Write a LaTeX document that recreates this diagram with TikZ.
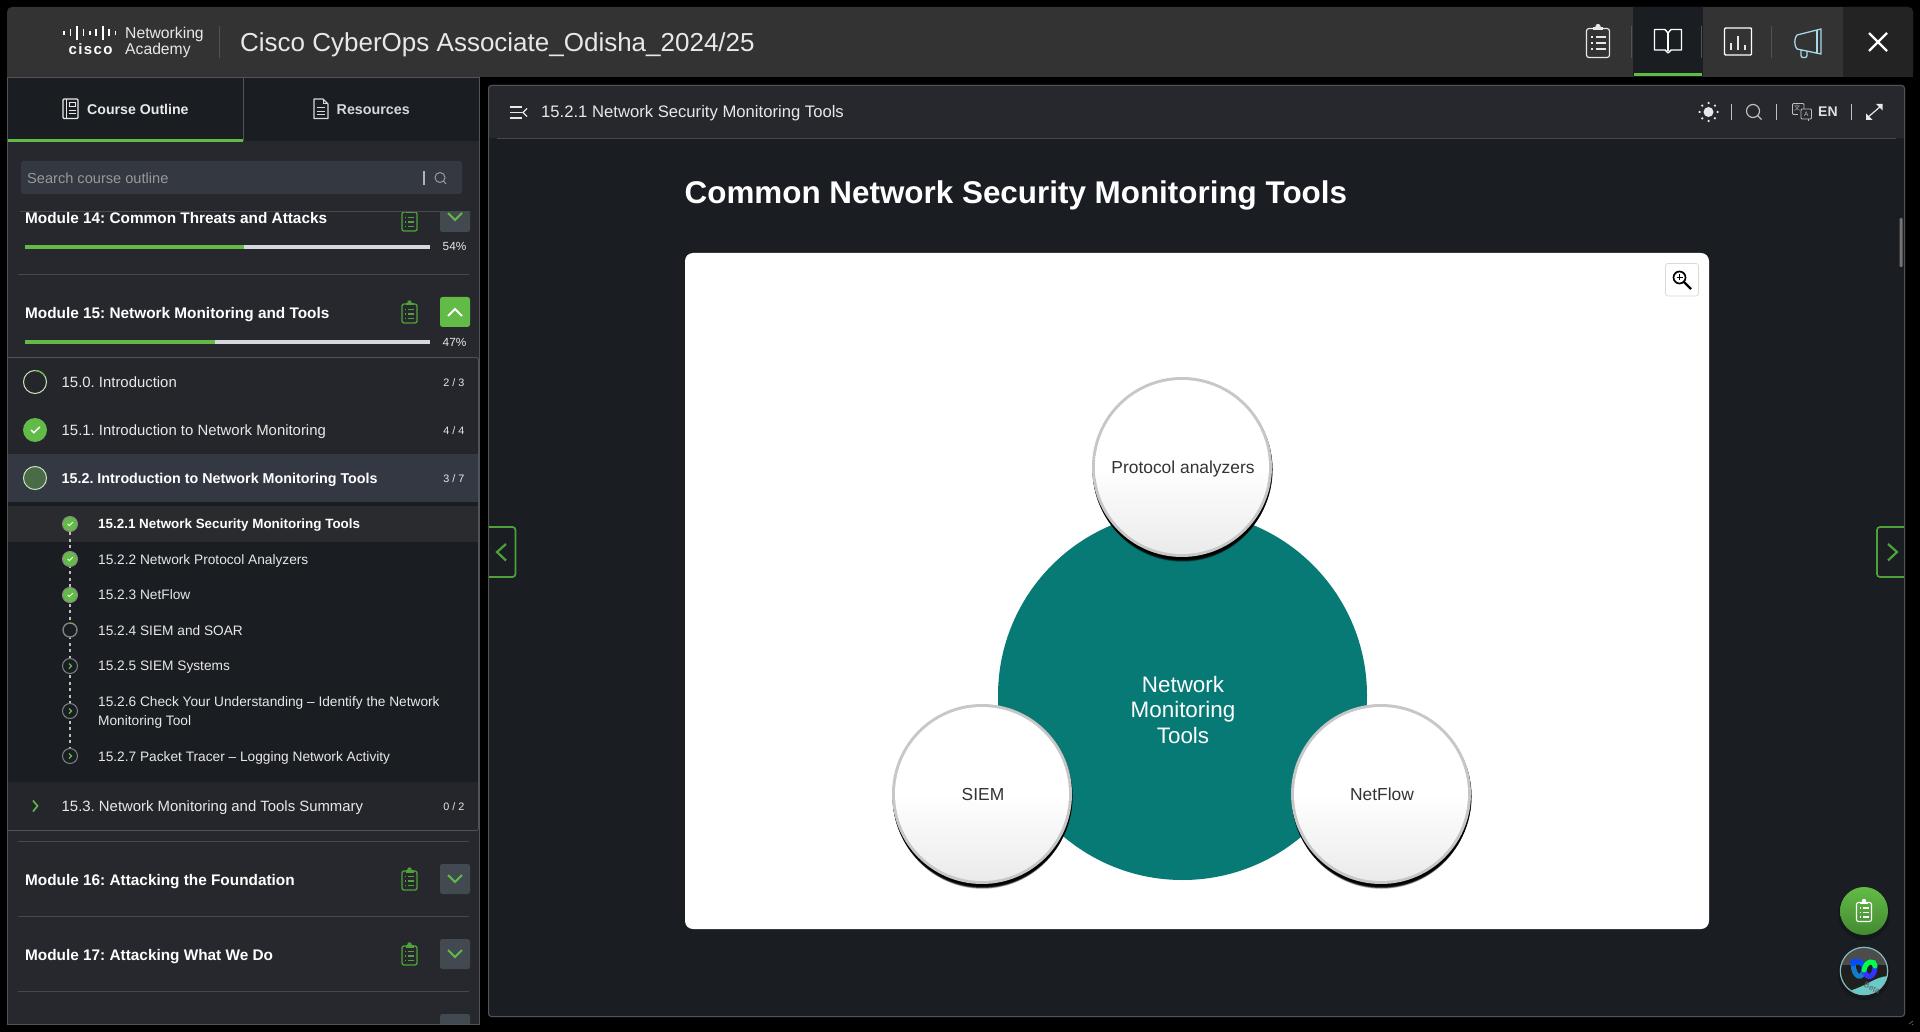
\documentclass[tikz,border=0pt]{standalone}
\usepackage{fontspec}
\setmainfont{Liberation Sans}
\newfontfamily\cjkface{Noto Sans CJK SC}
\usetikzlibrary{calc}
\definecolor{hdr}{HTML}{333333}
\definecolor{hdrdk}{HTML}{232323}
\definecolor{panel}{HTML}{26282D}
\definecolor{dark}{HTML}{1A1D22}
\definecolor{edge}{HTML}{50535A}
\definecolor{sepl}{HTML}{46484D}
\definecolor{srch}{HTML}{343840}
\definecolor{rowhi}{HTML}{333843}
\definecolor{subhi}{HTML}{2A2B2F}
\definecolor{grn}{HTML}{62BB46}
\definecolor{grnd}{HTML}{4FA23A}
\definecolor{grnm}{HTML}{4A6B45}
\definecolor{btn}{HTML}{434950}
\definecolor{bar}{HTML}{D4D8DF}
\definecolor{txt}{HTML}{E8E8E8}
\definecolor{teal}{HTML}{077A76}
\definecolor{ink}{HTML}{333333}
\definecolor{megab}{HTML}{A8D8E8}
\tikzset{
  x=1pt,y=-1pt,
  lbl/.style={inner sep=0pt,anchor=base west,text=txt},
  mid/.style={inner sep=0pt,anchor=base,text=txt},
  rgt/.style={inner sep=0pt,anchor=base east,text=txt},
  mod/.style={lbl,text=white,font=\frenchspacing\fontsize{15.35}{18}\selectfont\bfseries},
  row/.style={lbl,font=\frenchspacing\fontsize{14.9}{18}\selectfont},
  sub/.style={lbl,font=\frenchspacing\fontsize{13.7}{16}\selectfont},
  cnt/.style={rgt,font=\fontsize{10.8}{12}\selectfont},
  pct/.style={mid,font=\fontsize{11.8}{14}\selectfont},
  sepline/.style={draw=sepl,line width=0.8pt},
  ticon/.style={draw=white,line width=1.4pt,line join=round},
  balltxt/.style={text=ink,font=\fontsize{17.4}{20}\selectfont},
}
% clipboard icon: centre x, y, colour, line width
\newcommand{\clipicon}[4]{\begin{scope}[shift={(#1,#2)}]
  \draw[#3,line width=#4pt,rounded corners=2pt] (-7.5,-8) rectangle (7.5,11);
  \fill[#3] (-4,-9) rectangle (4,-6.5);
  \fill[#3] (0,-9.5) circle (2.2);
  \foreach \q in {-2.5,2,6.5}{
    \draw[#3,line width=#4pt] (-4.5,\q) -- (-3.2,\q);
    \draw[#3,line width=#4pt] (-1.2,\q) -- (4.8,\q);}
\end{scope}}
\newcommand{\downbtn}[2]{
  \fill[btn,rounded corners=2.5pt] (#1,#2) rectangle ++(30,30);
  \draw[grn,line width=2pt] (#1+8,#2+11) -- (#1+15,#2+18) -- (#1+22,#2+11);}
\newcommand{\progbar}[2]{
  \draw[bar,line width=3.5pt] (25,#1) -- (430,#1);
  \draw[grn,line width=3.5pt] (25,#1) -- (#2,#1);}
\newcommand{\chk}[3]{\draw[white,line width=#3pt] (#1-#3*2.6,#2) -- (#1-#3*0.8,#2+#3*1.8) -- (#1+#3*3.2,#2-#3*2);}
\begin{document}
\begin{tikzpicture}
\useasboundingbox (0,0) rectangle (1920,1032);
\fill[black] (0,0) rectangle (1920,1032);
% ---------- header bar
\fill[hdr,rounded corners=5pt] (7,7) rectangle (1913,77);
\fill[hdr] (7,30) rectangle (1700,77);
\fill[hdrdk,rounded corners=5pt] (1843,7) rectangle (1913,77);
\fill[hdrdk] (1843,7) rectangle (1880,77);
\fill[hdrdk] (1843,40) rectangle (1913,77);
\fill[dark] (1633,7) rectangle (1703,77);
\fill[grn] (1634,73) rectangle (1702,76);
% logo
\foreach \i/\h in {0/4,1/7,2/14,3/7,4/4,5/7,6/14,7/7,8/4}{
  \draw[white,line width=1.7pt] (64+\i*6.45,33-\h/2) -- (64+\i*6.45,33+\h/2);}
\node[mid,text=white,font=\fontsize{15}{16}\selectfont\bfseries] (logocisco) at (90.5,55) {c\hspace{1.4pt}i\hspace{1.4pt}s\hspace{1.4pt}c\hspace{1.4pt}o};
\node[lbl,font=\fontsize{15.7}{16}\selectfont,text=txt] (logonet) at (125,38.5) {Networking};
\node[lbl,font=\fontsize{15.7}{16}\selectfont,text=txt] (logoacad) at (125,55) {Academy};
\draw[edge] (219.5,26) -- (219.5,58);
\node[lbl,font=\fontsize{26}{30}\selectfont,text=txt] (course) at (240,52) {Cisco CyberOps Associate\_Odisha\_2024/25};
% header icons
\begin{scope}[shift={(1598,42)}]
  \draw[ticon,rounded corners=2.5pt,line width=1.2pt,draw=txt] (-11.5,-13.5) rectangle (11.5,15.5);
  \fill[txt] (-5,-15) rectangle (5,-12); \fill[txt] (0,-15.5) circle (2.6);
  \foreach \q in {-5,1,7}{\draw[txt,line width=1.4pt] (-7,\q) -- (-5,\q); \draw[txt,line width=1.4pt] (-2,\q) -- (8,\q);}
\end{scope}
\draw[edge] (1631.5,26) -- (1631.5,58);
\begin{scope}[shift={(1668,42)}]
  \draw[ticon] (0,-9) -- (-3,-12.5) -- (-13.5,-12.5) -- (-13.5,8) -- (-3,8) -- (0,11) -- (3,8) -- (13.5,8) -- (13.5,-12.5) -- (3,-12.5) -- cycle;
  \draw[ticon] (0,-9) -- (0,9);
\end{scope}
\draw[edge] (1701.5,26) -- (1701.5,58);
\begin{scope}[shift={(1738,42)}]
  \draw[ticon,rounded corners=1pt] (-13.5,-14) rectangle (13.5,13);
  \foreach \a/\h in {-7/7,0/14,7/5}{\draw[txt,line width=2.4pt] (\a,8) -- (\a,8-\h);}
\end{scope}
\draw[edge] (1771.5,26) -- (1771.5,58);
\begin{scope}[shift={(1808,42)}]
  \draw[megab,line width=1.3pt,line join=round] (-11,-7) -- (13,-13) -- (13,12) -- (-11,7) .. controls (-14,4) and (-14,-4) .. (-11,-7);
  \draw[megab,line width=1.3pt] (9,-12) -- (9,11);
  \draw[megab,line width=1.3pt,rounded corners=2pt] (-7,8) -- (-7,15.5) -- (-1,15.5) -- (-1,9);
\end{scope}
\draw[white,line width=2.4pt] (1869,33) -- (1887,51) (1887,33) -- (1869,51);
% ---------- left panel
\fill[panel] (8,78) rectangle (479,1024);
\fill[dark] (8,78) rectangle (243,141);
\fill[dark] (244,78) rectangle (479,141);
\draw[edge,line width=1pt] (7.5,77.5) -- (479.5,77.5) -- (479.5,1024) -- (7.5,1024) -- cycle;
\draw[edge,line width=0.8pt] (243.5,78) -- (243.5,141);
\fill[grn] (8,139) rectangle (243,142);
% tab icons
\draw[txt,line width=1.1pt,rounded corners=1pt] (63,99) rectangle (78,118.5);
\draw[txt,line width=1pt] (66,99) -- (66,118.5);
\draw[txt,line width=1pt] (69,103) rectangle (75,107);
\draw[txt,line width=1pt] (69,110.5) -- (75.5,110.5) (69,114) -- (75.5,114);
\node[lbl,text=txt,font=\fontsize{14.15}{18}\selectfont\bfseries] (tabout) at (87,114.8) {Course Outline};
\draw[bar,line width=1.1pt,line join=round] (314,99) -- (323,99) -- (328,104) -- (328,118.5) -- (314,118.5) -- cycle;
\draw[bar,line width=1pt] (323,99) -- (323,104) -- (328,104) (317,108) -- (325,108) (317,111.5) -- (325,111.5) (317,115) -- (325,115);
\node[lbl,text=bar,font=\fontsize{14.3}{18}\selectfont\bfseries] (tabres) at (336.5,114.8) {Resources};
% search
\fill[srch,rounded corners=2.5pt] (21,161) rectangle (462,194);
\node[lbl,text=white!60!black,font=\fontsize{14.6}{18}\selectfont] (search) at (27,183.5) {Search course outline};
\draw[white!70!black,line width=1.3pt] (424,171) -- (424,185);
\draw[white!60!black,line width=1pt] (440,177.5) circle (5) (443.6,181.2) -- (446,184);
% module 14, clipped under the search band
\begin{scope}
\clip (8,212) rectangle (479,300);
\node[mod] (m14) at (25,223.5) {Module 14: Common Threats and Attacks};
\clipicon{409.5}{220}{grnd}{1.3}
\downbtn{440}{202}
\end{scope}
\draw[sepl,line width=0.8pt] (20,211.5) -- (470,211.5);
\progbar{247}{244}
\node[pct] (p14) at (454.5,250.8) {54\%};
\draw[sepline] (18,274.5) -- (469,274.5);
% module 15
\node[mod] (m15) at (25,319) {Module 15: Network Monitoring and Tools};
\clipicon{409.5}{312}{grnd}{1.3}
\fill[grn,rounded corners=2.5pt] (440,297) rectangle (470,327);
\draw[white,line width=2pt] (448,316) -- (455,309) -- (462,316);
\progbar{342}{215}
\node[pct] (p15) at (454.5,346.3) {47\%};
% sub box
\fill[panel!85!dark] (8,357) rectangle (478,830);
\fill[dark] (8,502) rectangle (478,782);
\fill[rowhi] (8,454) rectangle (478,502);
\fill[subhi] (8,506) rectangle (478,542);
\draw[edge,line width=0.8pt,rounded corners=2pt] (8,357.5) -- (478.5,357.5) -- (478.5,830.5) -- (8,830.5);
% section rows
\draw[grn!35!white,line width=1pt] (35,382) circle (11.5);
\draw[grn,line width=1.2pt] (35,370.5) arc[start angle=-90,end angle=-30,radius=11.5];
\node[row] (r150) at (61.5,387.5) {15.0. Introduction};
\node[cnt] (c150) at (464.5,386) {2 / 3};
\fill[grn] (35,430) circle (12);
\chk{35}{430}{1.5}
\node[row] (r151) at (61.5,435.5) {15.1. Introduction to Network Monitoring};
\node[cnt] (c151) at (464.5,434) {4 / 4};
\fill[grnm] (35,478) circle (11);
\draw[grn!35!white,line width=1pt] (35,478) circle (11.5);
\node[row,text=white,font=\frenchspacing\fontsize{14.3}{18}\selectfont\bfseries] (r152) at (61.5,483.5) {15.2. Introduction to Network Monitoring Tools};
\node[cnt] (c152) at (464.5,482) {3 / 7};
% dotted path
\draw[white!75!black,line width=1.4pt,dash pattern=on 3pt off 3.5pt] (70,532) -- (70,750);
% sub items
\foreach \yy in {524,559,595}{
  \fill[grn] (70,\yy) circle (7.2);
  \draw[white!55!black,line width=1pt] (70,\yy) circle (7.5);
  \chk{70}{\yy}{0.9}
}
\fill[dark] (70,630) circle (7.5);
\draw[white!50!black,line width=1.4pt] (70,630) circle (7);
\draw[grn,line width=0.8pt] (70,623) arc[start angle=-90,end angle=-50,radius=7];
\foreach \yy in {666,711,756}{
  \fill[dark] (70,\yy) circle (7.5);
  \draw[white!50!black,line width=1pt] (70,\yy) circle (7.5);
  \draw[grn,line width=1.1pt] (69,\yy-2.5) -- (71.5,\yy) -- (69,\yy+2.5);
}
\node[sub,text=white,font=\frenchspacing\fontsize{13.4}{16}\selectfont\bfseries] (s1) at (98,528.5) {15.2.1 Network Security Monitoring Tools};
\node[sub] (s2) at (98,564.5) {15.2.2 Network Protocol Analyzers};
\node[sub] (s3) at (98,599.5) {15.2.3 NetFlow};
\node[sub] (s4) at (98,635.5) {15.2.4 SIEM and SOAR};
\node[sub] (s5) at (98,670.5) {15.2.5 SIEM Systems};
\node[sub] (s6) at (98,706.5) {15.2.6 Check Your Understanding – Identify the Network};
\node[sub] (s6b) at (98,725.5) {Monitoring Tool};
\node[sub] (s7) at (98,761.5) {15.2.7 Packet Tracer – Logging Network Activity};
\draw[grn,line width=1.6pt] (33,800.5) -- (37.5,806) -- (33,811.5);
\node[row] (r153) at (61.5,811.5) {15.3. Network Monitoring and Tools Summary};
\node[cnt] (c153) at (464.5,810) {0 / 2};
% modules below
\draw[sepline] (18,841.5) -- (469,841.5);
\node[mod] (m16) at (25,885) {Module 16: Attacking the Foundation};
\clipicon{409.5}{879}{grnd}{1.3}
\downbtn{440}{864}
\draw[sepline] (18,916.5) -- (469,916.5);
\node[mod] (m17) at (25,960) {Module 17: Attacking What We Do};
\clipicon{409.5}{954}{grnd}{1.3}
\downbtn{440}{939}
\draw[sepline] (18,991.5) -- (469,991.5);
\fill[btn,rounded corners=2.5pt] (440,1014) rectangle (470,1030);
\fill[black] (430,1024.5) rectangle (479,1032);
\draw[edge,line width=1pt] (7.5,1024) -- (479.5,1024);
% ---------- right panel
\fill[dark,rounded corners=3pt] (488,85) rectangle (1905,1017);
\fill[panel,rounded corners=3pt] (488,85) rectangle (1905,100);
\fill[panel] (488,92) rectangle (1905,138);
\draw[edge,line width=1pt,rounded corners=3pt] (488.5,85.5) rectangle (1904.5,1016.5);
\draw[sepl,line width=1pt] (497,138.5) -- (1896,138.5);
% hamburger and title
\draw[txt,line width=1.4pt] (510,107) -- (522,107) (510,112.5) -- (522,112.5) (510,118) -- (522,118);
\draw[txt,line width=1.4pt] (527,108.5) -- (523,112.5) -- (527,116.5);
\node[lbl,font=\fontsize{16.65}{20}\selectfont] (title) at (541,118) {15.2.1 Network Security Monitoring Tools};
% toolbar right
\fill[txt] (1708.5,112) circle (5);
\foreach \a in {0,45,...,315}{\fill[txt] ($(1708.5,112)+(\a:9)$) circle (1.25);}
\draw[white!75!black] (1731.5,104) -- (1731.5,120);
\draw[white!75!black,line width=1.2pt] (1753,111) circle (6.5) (1757.7,115.7) -- (1761.5,119.5);
\draw[white!75!black] (1776.5,104) -- (1776.5,120);
\draw[white!75!black,line width=0.9pt,rounded corners=1pt] (1792.5,103.5) rectangle (1804,114.5);
\fill[panel] (1798,109) rectangle (1812,120);
\draw[white!75!black,line width=0.9pt,rounded corners=1pt] (1801,109) rectangle (1811.5,119) ;
\draw[white!75!black,line width=0.9pt] (1808,119) -- (1808,121.5);
\node[mid,text=white!75!black,font=\fontsize{6.5}{8}\selectfont] (tra) at (1806.2,117) {A};
\node[mid,text=white!75!black,font=\cjkface\fontsize{6.5}{8}\selectfont] (trz) at (1797,110.5) {文};
\node[lbl,text=white!88!black,font=\fontsize{14}{16}\selectfont\bfseries] (en) at (1818,117) {EN};
\draw[white!75!black] (1851.5,104) -- (1851.5,120);
\draw[txt,line width=1.2pt] (1867,118) -- (1881,106);
\fill[txt] (1866,120) -- (1866,113.5) -- (1872.5,120) -- cycle;
\fill[txt] (1882.5,104) -- (1882.5,110.5) -- (1876,104) -- cycle;
\fill[white!45!black,rounded corners=1pt] (1899.5,218) rectangle (1902.5,267);
% heading
\node[lbl,text=white,font=\fontsize{31.4}{34}\selectfont\bfseries] (heading) at (684.5,203.5) {Common Network Security Monitoring Tools};
% nav buttons
\draw[grnd,line width=1.7pt,rounded corners=3pt] (489,527) -- (515.5,527) -- (515.5,577) -- (489,577);
\draw[grnd,line width=2.2pt] (506,544) -- (497,552) -- (506,560.5);
\draw[grnd,line width=1.7pt,rounded corners=3pt] (1904,527) -- (1877,527) -- (1877,577) -- (1904,577);
\draw[grnd,line width=2.2pt] (1888,544) -- (1897,552) -- (1888,560.5);
% card
\fill[white,rounded corners=8pt] (685,253) rectangle (1709,929);
\draw[black!15,line width=0.7pt,rounded corners=2.5pt,fill=white] (1665.5,263.5) rectangle (1698.5,296);
\draw[black,line width=1.7pt] (1679.5,277.5) circle (6);
\draw[black,line width=2.4pt] (1684,282) -- (1691,289);
\draw[black,line width=1.2pt] (1676.5,277.5) -- (1682.5,277.5) (1679.5,274.5) -- (1679.5,280.5);
% diagram
\node[circle,fill=teal,minimum size=369pt,inner sep=0pt] (hub) at (1182.5,695.5) {};
\node[text=white,align=center,font=\fontsize{22.4}{25.7}\selectfont] (hubtxt) at (1183,709.8) {Network\\Monitoring\\Tools};
\foreach \n/\cx/\cy/\t/\dx/\dy in {pa/1182/467/Protocol analyzers/1/1.5,siem/982/794/SIEM/1/0.5,nf/1381/794/NetFlow/1/0}{
  \foreach \o/\r/\a in {7/88/0.15,6/88.5/0.3,5/89/0.45,4/89.5/0.6,3/90/0.7,2/90/0.8}{
    \fill[black,opacity=\a] (\cx+0.5,\cy+\o) circle (\r);}
  \node[circle,minimum size=180pt,inner sep=0pt,fill=black!22] (\n rim) at (\cx,\cy) {};
  \node[circle,minimum size=174pt,inner sep=0pt,shade,top color=white,bottom color=black!8,middle color=white] (\n) at (\cx,\cy) {};
  \node[balltxt,inner sep=0pt] (\n txt) at (\cx+\dx,\cy+\dy) {\t};
}
% floating buttons
\fill[black,opacity=0.2] (1864,914) circle (26);
\shade[top color=grn,bottom color=grnd!85!black] (1864,911) circle (24);
\clipicon{1864}{910.5}{white}{1.1}
\fill[black,opacity=0.2] (1864,974) circle (26);
\begin{scope}
  \clip (1864,971) circle (23.5);
  \fill[black!88] (1840,947) rectangle (1888,995);
  \fill[black!70] (1840,947) rectangle (1888,965);
  \fill[white!50!teal!80!cyan] (1888,976) .. controls (1875,977) and (1868,985) .. (1852,990) -- (1852,996) -- (1888,996) -- cycle;
\end{scope}
\draw[white!50!teal,line width=1.2pt] (1864,971) circle (23.7);
\draw[cyan!60!blue,line width=5pt,line cap=round] (1853,964) .. controls (1854,978) and (1862,980) .. (1864,970);
\draw[blue!70!cyan,line width=5pt,line cap=round] (1864,970) .. controls (1866,962) and (1852,958) .. (1853,964);
\draw[blue!80!white,line width=5pt,line cap=round] (1864,970) .. controls (1866,980) and (1875,978) .. (1875,966);
\draw[green!70!cyan,line width=5pt,line cap=round] (1864,970) .. controls (1866,960) and (1875,960) .. (1875,966);
\node[text=black!65,rotate=-25,inner sep=0pt,font=\fontsize{8}{9}\selectfont] (beta) at (1872,988) {Beta};
% resize corner
\draw[white!40!black,line width=0.7pt] (1909,1024) -- (1913,1021) (1912,1025) -- (1913,1024);
\end{tikzpicture}
\end{document}
